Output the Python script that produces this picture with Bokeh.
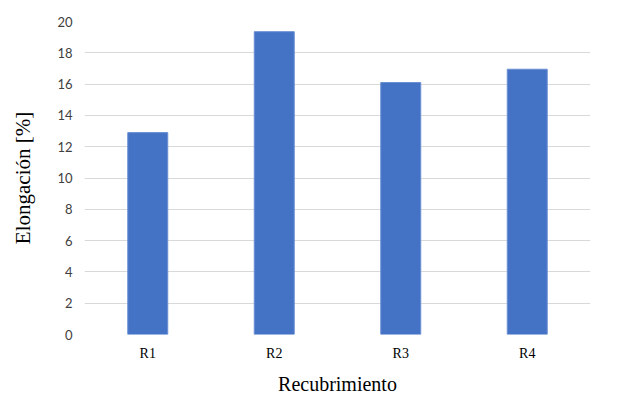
from bokeh.plotting import figure
from bokeh.models import ColumnDataSource, FixedTicker, Range1d
from bokeh.embed import file_html
from bokeh.resources import INLINE

categories = ["R1", "R2", "R3", "R4"]
values = [12.9, 19.35, 16.1, 16.95]
y_ticks = [0, 2, 4, 6, 8, 10, 12, 14, 16, 18, 20]

SERIF = "'Liberation Serif', 'Times New Roman', serif"

source = ColumnDataSource(data=dict(cat=categories, val=values))

p = figure(x_range=categories, y_range=Range1d(0, 20), width=620, height=400,
           output_backend="svg", toolbar_location=None,
           min_border_left=84, min_border_right=30, min_border_top=21, min_border_bottom=66)

p.vbar(x="cat", top="val", width=0.316, source=source,
       fill_color="#4472C4", line_color="#6a8fd3", line_width=1)

p.outline_line_color = None
p.xgrid.grid_line_color = None
p.ygrid.grid_line_color = "#d9d9d9"
p.ygrid.grid_line_width = 1
p.yaxis.ticker = FixedTicker(ticks=y_ticks)

for ax in (p.xaxis, p.yaxis):
    ax.axis_line_color = None
    ax.major_tick_line_color = None
    ax.minor_tick_line_color = None

p.yaxis.major_label_text_font = "Lato"
p.yaxis.major_label_text_font_size = "13px"
p.yaxis.major_label_text_color = "#404040"
p.yaxis.major_label_standoff = 6
p.yaxis.axis_label = "Elongación [%]"
p.yaxis.axis_label_text_font = SERIF
p.yaxis.axis_label_text_font_style = "normal"
p.yaxis.axis_label_text_font_size = "21px"
p.yaxis.axis_label_text_color = "#000000"
p.yaxis.axis_label_standoff = 19

p.xaxis.major_label_text_font = SERIF
p.xaxis.major_label_text_font_size = "14px"
p.xaxis.major_label_text_color = "#000000"
p.xaxis.major_label_standoff = 5
p.xaxis.axis_label = "Recubrimiento"
p.xaxis.axis_label_text_font = SERIF
p.xaxis.axis_label_text_font_style = "normal"
p.xaxis.axis_label_text_font_size = "20px"
p.xaxis.axis_label_text_color = "#000000"
p.xaxis.axis_label_standoff = 9

open("out.html", "w").write(file_html(p, INLINE))
